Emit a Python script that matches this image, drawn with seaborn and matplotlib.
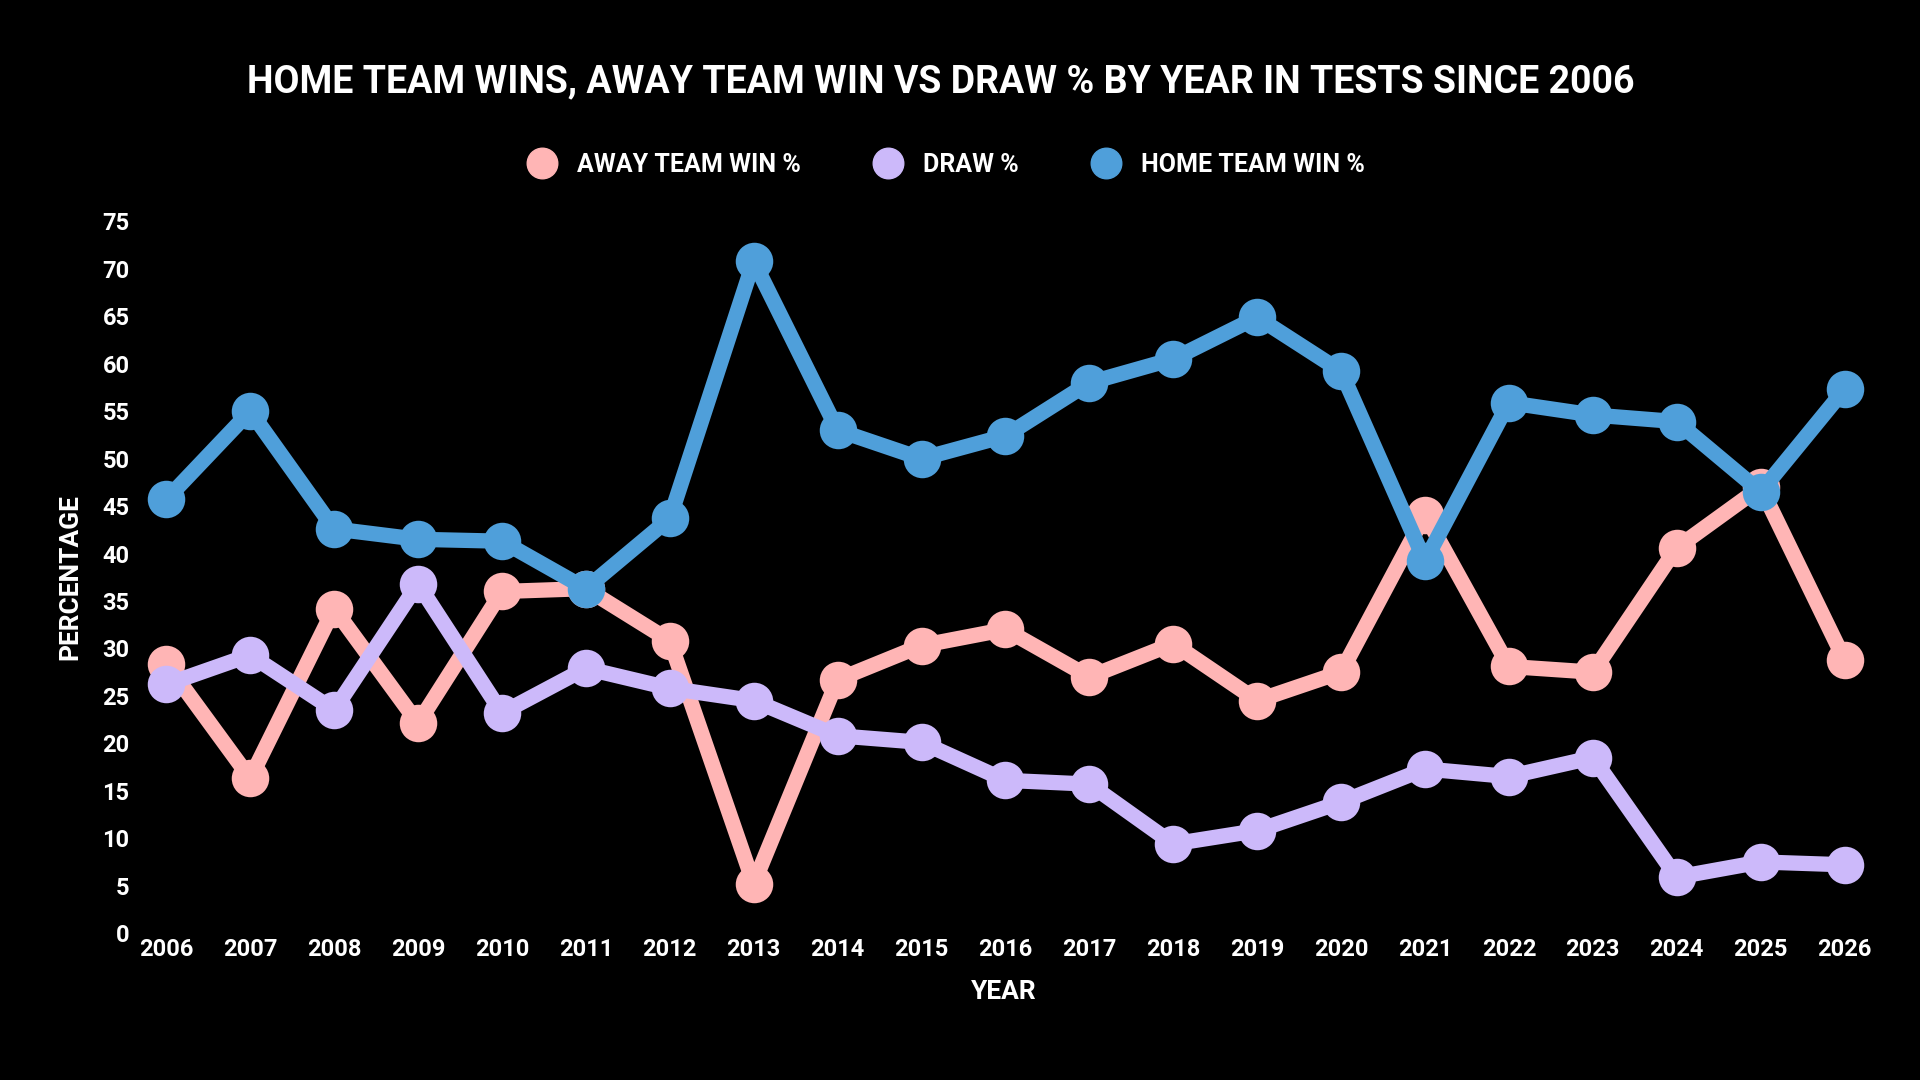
import pandas as pd
import seaborn as sns
import matplotlib.pyplot as plt

years = list(range(2006, 2027))
away = [28.4, 16.3, 34.2, 22.1, 36.0, 36.3, 30.8, 5.2, 26.7, 30.3, 32.0, 27.0, 30.5, 24.5, 27.5, 44.1, 28.1, 27.5, 40.6, 47.0, 28.8]
draw = [26.2, 29.3, 23.5, 36.8, 23.2, 27.9, 25.8, 24.5, 20.8, 20.1, 16.1, 15.7, 9.4, 10.8, 13.8, 17.3, 16.5, 18.5, 5.9, 7.5, 7.2]
home = [45.7, 55.0, 42.6, 41.5, 41.3, 36.3, 43.7, 70.8, 53.0, 50.0, 52.4, 58.0, 60.5, 64.9, 59.2, 39.2, 55.9, 54.6, 53.9, 46.5, 57.3]
series = ["AWAY TEAM WIN %", "DRAW %", "HOME TEAM WIN %"]
colors = ["#FFB5B5", "#CCB9FA", "#4F9FDA"]

df = pd.DataFrame({"year": years * 3,
                   "value": away + draw + home,
                   "series": [series[0]] * 21 + [series[1]] * 21 + [series[2]] * 21})

sns.set_style("dark")
plt.rcParams['font.family'] = ['Roboto', 'DejaVu Sans']
plt.rcParams['font.weight'] = 'bold'

fig = plt.figure(figsize=(19.2, 10.8), dpi=100, facecolor="black")
ax = fig.add_axes([0.070, 0.136, 0.906, 0.659])
ax.set_facecolor("black")
g = sns.lineplot(data=df, x="year", y="value", hue="series", hue_order=series,
                 palette=colors, marker="o", markersize=27, linewidth=11,
                 markeredgewidth=0, ax=ax, legend=False, clip_on=False)

ax.set_xlim(2005.62, 2026.35)
ax.set_ylim(0, 75)
ax.set_xticks(years)
ax.set_yticks(range(0, 80, 5))
ax.tick_params(colors="white", labelsize=17, length=0)
for lbl in ax.get_xticklabels() + ax.get_yticklabels():
    lbl.set_fontweight("bold")
ax.grid(False)
for s in ax.spines.values():
    s.set_visible(False)
ax.set_xlabel("YEAR", color="white", fontsize=19, fontweight="bold", labelpad=14)
ax.set_ylabel("PERCENTAGE", color="white", fontsize=19, fontweight="bold", labelpad=14)

fig.text(0.49, 0.924, "HOME TEAM WINS, AWAY TEAM WIN VS DRAW % BY YEAR IN TESTS SINCE 2006",
         color="white", fontsize=27, fontweight="bold", ha="center", va="center")

handles = [plt.Line2D([], [], marker="o", linestyle="", markersize=22, color=c) for c in colors]
leg = fig.legend(handles, series, loc="center", bbox_to_anchor=(0.49, 0.847), ncol=3,
                 frameon=False, fontsize=18, handletextpad=0.4, columnspacing=2.5)
for t in leg.get_texts():
    t.set_color("white")
    t.set_fontweight("bold")

fig.savefig("out.png", dpi=100, facecolor="black")
